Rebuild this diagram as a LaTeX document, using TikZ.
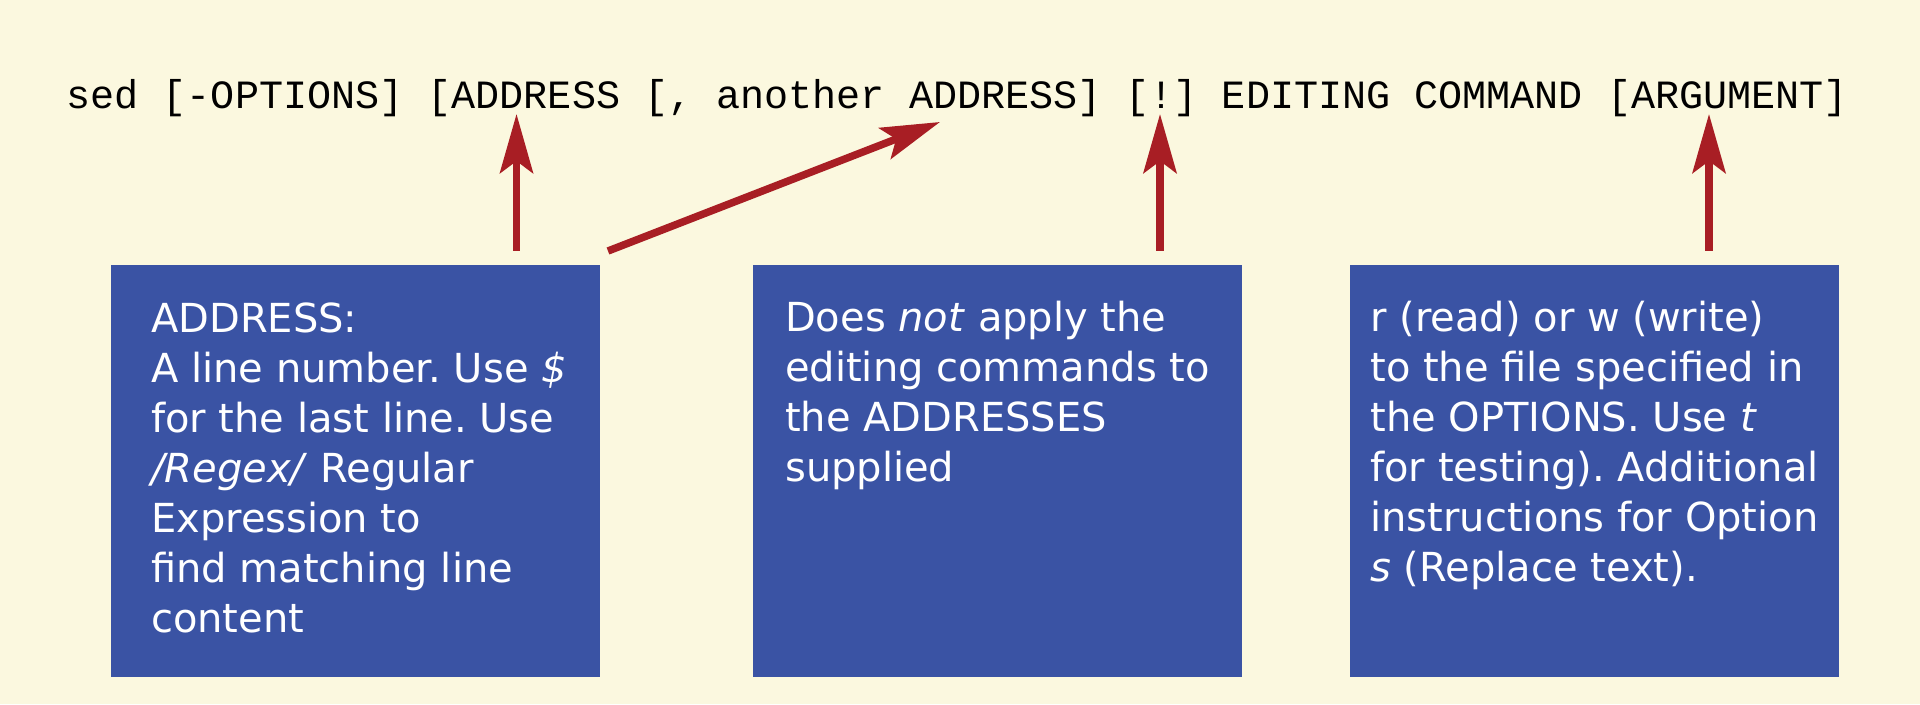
\documentclass[tikz,border=0pt]{standalone}
\usepackage{fontspec}
\setmainfont{DejaVu Sans}
\newfontfamily\codefont{Liberation Mono}
\usetikzlibrary{arrows.meta,calc}
\definecolor{paper}{HTML}{FBF8DF}
\definecolor{boxblue}{HTML}{3A53A4}
\definecolor{pointred}{HTML}{A81E24}
\frenchspacing
\tikzset{%
  >={Stealth[length=1.18cm,width=0.66cm,inset=0.24cm]}, % wide arrow heads
  inner sep=0pt,%
  outer sep=0pt,%
  note box/.style={fill=boxblue,minimum width=9.78cm,minimum height=8.24cm,
    anchor=north west},%
  note text/.style={anchor=north,align=left,text=white,
    font=\fontsize{22.76pt}{28.45pt}\selectfont},%
  pointer/.style={->,draw=pointred,line width=0.15cm}%
}

\begin{document}
\begin{tikzpicture} % SED SYNTAX

\fill[paper] (0,0) rectangle (38.4,14.08);
\useasboundingbox (0,0) rectangle (38.4,14.08);

\node[anchor=base west,font=\codefont\fontsize{22.83pt}{28.45pt}\selectfont]
  (cmd) at (1.33,11.9)
  {sed [-OPTIONS] [ADDRESS [, another ADDRESS] [!] EDITING COMMAND [ARGUMENT]};

\node[note box] (addr) at (2.22,8.78) {};
\node[note box] (neg) at (15.06,8.78) {};
\node[note box] (arg) at (27.0,8.78) {};

\node[note text] (addrtext) at ($(addr.north)+(0.07,-0.75)$)
  {ADDRESS:\\A line number. Use \textit{\$}\\for the last line. Use\\
   \textit{/Regex/} Regular\\Expression to\\find matching line\\content};
\node[note text] (negtext) at ($(neg.north)+(0,-0.73)$)
  {Does \textit{not} apply the\\editing commands to\\the ADDRESSES\\supplied};
\node[note text] (argtext) at ($(arg.north)+(0,-0.73)$)
  {r (read) or w (write)\\to the file specified in\\the OPTIONS. Use \textit{t}\\
   for testing). Additional\\instructions for Option\\\textit{s} (Replace text).};

% pointers: tail above the box, tip under the command line
\coordinate (Taddr) at (10.33,9.06);
\coordinate (Haddr) at (10.33,11.8);
\coordinate (Tmore) at (12.16,9.06);
\coordinate (Hmore) at (18.8,11.64);
\coordinate (Tneg) at (23.2,9.06);
\coordinate (Hneg) at (23.2,11.8);
\coordinate (Targ) at (34.18,9.06);
\coordinate (Harg) at (34.18,11.8);

\draw[pointer] (Taddr) -- (Haddr);
\draw[pointer] (Tmore) -- (Hmore);
\draw[pointer] (Tneg) -- (Hneg);
\draw[pointer] (Targ) -- (Harg);

\end{tikzpicture}
\end{document}
